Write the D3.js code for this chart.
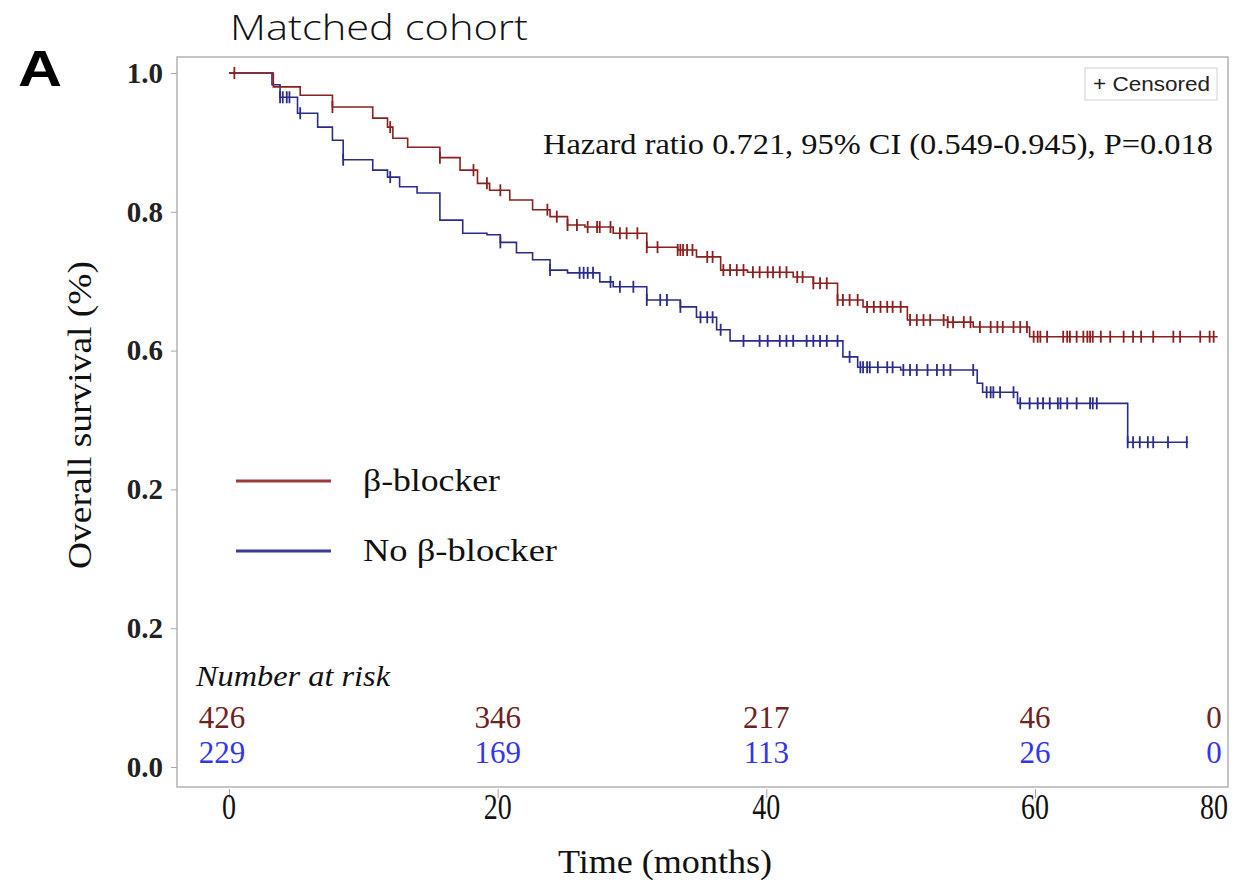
<!DOCTYPE html>
<html>
<head>
<meta charset="utf-8">
<script src="https://cdn.jsdelivr.net/npm/d3@7"></script>
<style>
  html, body { margin: 0; padding: 0; background: #fff; }
  svg { display: block; }
</style>
</head>
<body>
<svg id="chart" width="1242" height="890"></svg>
<script>
// Kaplan–Meier step points: [months, survival]
const betaBlockerCurve = [
  [0, 1.0], [3.3, 0.980], [5.3, 0.968], [7.7, 0.951], [10.7, 0.935], [11.8, 0.922],
  [12.2, 0.906], [13.3, 0.893], [15.7, 0.878], [17.2, 0.860], [18.5, 0.841],
  [19.4, 0.831], [20.9, 0.817], [22.6, 0.803], [23.9, 0.793], [25.2, 0.781],
  [26.5, 0.778], [28.6, 0.769], [31.1, 0.749], [33.4, 0.745], [34.8, 0.735],
  [36.6, 0.716], [38.6, 0.713], [42.0, 0.706], [43.5, 0.697], [45.3, 0.673],
  [47.2, 0.663], [50.5, 0.644], [53.5, 0.641], [55.4, 0.634], [59.6, 0.620]
];
const betaBlockerEnd = 73.6;

const noBetaBlockerCurve = [
  [0, 1.0], [3.2, 0.983], [3.8, 0.965], [5.1, 0.942], [6.6, 0.922], [7.7, 0.903],
  [8.5, 0.875], [10.7, 0.860], [11.8, 0.850], [12.7, 0.836], [14.0, 0.827],
  [15.7, 0.788], [17.4, 0.769], [19.2, 0.767], [20.2, 0.756], [21.4, 0.741],
  [22.6, 0.731], [23.9, 0.716], [25.2, 0.712], [27.6, 0.699], [28.6, 0.692],
  [31.1, 0.673], [33.6, 0.663], [34.8, 0.648], [36.3, 0.630], [37.3, 0.614],
  [45.7, 0.591], [46.8, 0.576], [50.0, 0.572], [55.7, 0.553], [56.1, 0.540],
  [58.7, 0.524], [66.9, 0.468]
];
const noBetaBlockerEnd = 71.4;

// Censoring times (months)
const betaBlockerCensored = [
  0.4, 7.7, 12.0, 15.7, 18.2, 19.2, 20.2, 23.7, 24.4, 25.2, 25.9, 26.7, 27.4, 27.6,
  28.4, 29.1, 29.6, 30.4, 31.1, 31.9, 33.4, 33.6, 33.8, 34.1, 34.5, 35.6, 36.0, 36.8,
  37.3, 37.8, 38.3, 39.0, 39.5, 40.1, 40.5, 41.0, 41.5, 42.3, 42.7, 43.5, 44.0, 44.5,
  45.3, 45.7, 46.2, 46.8, 47.5, 48.0, 48.5, 49.0, 49.4, 50.0, 50.7, 51.2, 51.7, 52.2,
  53.2, 53.5, 53.9, 54.7, 55.2, 55.9, 56.7, 57.2, 57.6, 58.4, 58.9, 59.4, 59.9, 60.2,
  60.4, 60.9, 62.1, 62.4, 62.6, 63.1, 63.6, 63.9, 64.1, 64.3, 64.9, 65.6, 66.6, 67.3,
  67.9, 68.8, 70.3, 70.8, 72.3, 73.0, 73.3
];
const noBetaBlockerCensored = [
  3.8, 4.0, 4.3, 4.5, 5.3, 8.5, 12.0, 20.2, 23.9, 26.1, 26.4, 26.7, 27.1, 28.4, 29.1,
  30.1, 31.1, 32.1, 32.6, 33.6, 35.1, 35.6, 36.0, 36.6, 38.3, 39.5, 40.1, 41.0, 41.5,
  42.0, 43.0, 43.5, 44.0, 44.5, 45.3, 46.2, 47.0, 47.2, 47.5, 47.7, 48.3, 49.0, 49.4,
  50.2, 50.7, 51.2, 52.0, 52.7, 53.2, 53.7, 55.4, 56.4, 56.7, 56.9, 57.4, 58.4, 58.9,
  59.6, 60.2, 60.6, 61.1, 61.7, 61.9, 62.4, 63.1, 64.1, 64.3, 64.6, 66.9, 67.3, 67.8,
  68.4, 68.8, 69.9, 71.3
];

// Axis ticks and labels as printed
const yTickValues = [0, 0.2, 0.4, 0.6, 0.8, 1.0];
const yTickLabels = ["0.0", "0.2", "0.2", "0.6", "0.8", "1.0"];
const xTickValues = [0, 20, 40, 60, 80];
const xTickLabels = ["0", "20", "40", "60", "80"];

// Number at risk table
const atRiskTimes = [0, 20, 40, 60, 80];
const atRiskBeta = [426, 346, 217, 46, 0];
const atRiskNoBeta = [229, 169, 113, 26, 0];

const seriesNames = ["β-blocker", "No β-blocker"];
const hazardText = "Hazard ratio 0.721, 95% CI (0.549-0.945), P=0.018";

// ---- layout ----
const frame = { left: 177, top: 57, right: 1228, bottom: 787 };
const svg = d3.select("#chart");
const serif = "'Liberation Serif', 'Times New Roman', serif";
const sans = "'Liberation Sans', Arial, sans-serif";

const x = d3.scaleLinear().domain([0, 60]).range([229, 1035]);
const xRightLabel = frame.right - 14; // last column sits at the frame edge
const xCol = t => (x(t) > frame.right ? xRightLabel : x(t));
const y = d3.scaleLinear().domain([0, 1]).range([767, 73]);

const colors = {
  red: "#8a1f1f", blue: "#2b2b8c",
  legendRed: "#9c3b3b", legendBlue: "#3b3b98",
  riskRed: "#6e2222", riskBlue: "#3535ee"
};

// Helper: text with a fixed rendered width
function fitText(sel, width) {
  return sel.attr("textLength", width).attr("lengthAdjust", "spacingAndGlyphs");
}

// Frame
svg.append("rect")
  .attr("x", frame.left).attr("y", frame.top)
  .attr("width", frame.right - frame.left).attr("height", frame.bottom - frame.top)
  .attr("fill", "none").attr("stroke", "#b3b3b3").attr("stroke-width", 1.5);

// Y axis
const yAxis = svg.append("g")
  .attr("transform", `translate(${frame.left},0)`)
  .call(d3.axisLeft(y).tickValues(yTickValues).tickSize(6).tickPadding(8)
    .tickFormat((d, i) => yTickLabels[i]));
yAxis.select(".domain").remove();
yAxis.selectAll(".tick line").attr("stroke", "#a8a8a8");
yAxis.selectAll(".tick text")
  .attr("font-family", serif).attr("font-weight", "bold")
  .attr("font-size", 29).attr("fill", "#222");

// X axis
const xAxis = svg.append("g")
  .attr("transform", `translate(0,${frame.bottom})`)
  .call(d3.axisBottom(x).tickValues(xTickValues.filter(t => x(t) <= frame.right))
    .tickSize(9).tickFormat(""));
xAxis.select(".domain").remove();
xAxis.selectAll(".tick line").attr("stroke", "#a8a8a8").attr("transform", "translate(0,2)");

svg.append("g").selectAll("text")
  .data(xTickValues)
  .join("text")
  .attr("x", d => xCol(d))
  .attr("y", 819)
  .attr("text-anchor", "middle")
  .attr("font-family", serif).attr("font-size", 36).attr("fill", "#111")
  .each(function (d, i) {
    const s = d3.select(this).text(xTickLabels[i]);
    fitText(s, xTickLabels[i].length * 14);
  });

// Axis titles
fitText(svg.append("text")
  .attr("transform", "translate(91,415) rotate(-90)")
  .attr("text-anchor", "middle")
  .attr("font-family", serif).attr("font-size", 33).attr("fill", "#111")
  .text("Overall survival (%)"), 308);
fitText(svg.append("text")
  .attr("x", 665).attr("y", 873)
  .attr("text-anchor", "middle")
  .attr("font-family", serif).attr("font-size", 33).attr("fill", "#111")
  .text("Time (months)"), 214);

// Panel letter and title
fitText(svg.append("text")
  .attr("x", 18).attr("y", 86)
  .attr("font-family", sans)
  .attr("font-weight", "bold").attr("font-size", 50).attr("fill", "#000")
  .text("A"), 44);
fitText(svg.append("text")
  .attr("x", 230).attr("y", 40)
  .attr("font-family", "'Open Sans', sans-serif")
  .attr("font-weight", 300).attr("font-size", 35).attr("fill", "#111")
  .text("Matched cohort"), 298);

// Survival curves
const line = d3.line().x(d => x(d[0])).y(d => y(d[1])).curve(d3.curveStepAfter);
const withEnd = (pts, end) => pts.concat([[end, pts[pts.length - 1][1]]]);
const survAt = (pts, t) => {
  const i = d3.bisector(d => d[0]).right(pts, t) - 1;
  return pts[Math.max(0, i)][1];
};

const series = [
  { pts: betaBlockerCurve, end: betaBlockerEnd, cens: betaBlockerCensored, color: colors.red },
  { pts: noBetaBlockerCurve, end: noBetaBlockerEnd, cens: noBetaBlockerCensored, color: colors.blue }
];

series.slice().reverse().forEach(s => {
  svg.append("path")
    .attr("d", line(withEnd(s.pts, s.end)))
    .attr("fill", "none").attr("stroke", s.color).attr("stroke-width", 1.6);
  svg.append("g").selectAll("line")
    .data(s.cens)
    .join("line")
    .attr("x1", t => x(t)).attr("x2", t => x(t))
    .attr("y1", t => y(survAt(s.pts, t)) - 6)
    .attr("y2", t => y(survAt(s.pts, t)) + 6)
    .attr("stroke", s.color).attr("stroke-width", 1.8);
});

// Legend
const legend = [
  { name: seriesNames[0], color: colors.legendRed, y: 481, w: 137 },
  { name: seriesNames[1], color: colors.legendBlue, y: 551, w: 194 }
];
legend.forEach(l => {
  svg.append("line")
    .attr("x1", 236).attr("x2", 331).attr("y1", l.y).attr("y2", l.y)
    .attr("stroke", l.color).attr("stroke-width", 3);
  fitText(svg.append("text")
    .attr("x", 363).attr("y", l.y + 10)
    .attr("font-family", serif).attr("font-size", 32).attr("fill", "#111")
    .text(l.name), l.w);
});

// Hazard ratio annotation
fitText(svg.append("text")
  .attr("x", 543).attr("y", 154)
  .attr("font-family", serif).attr("font-size", 29).attr("fill", "#111")
  .text(hazardText), 670);

// Censored key
svg.append("rect")
  .attr("x", 1085).attr("y", 68).attr("width", 132).attr("height", 32)
  .attr("fill", "#fff").attr("stroke", "#d0d0d0").attr("stroke-width", 1);
fitText(svg.append("text")
  .attr("x", 1093).attr("y", 91)
  .attr("font-family", sans)
  .attr("font-size", 20).attr("fill", "#222")
  .text("+ Censored"), 117);

// Number at risk
fitText(svg.append("text")
  .attr("x", 196).attr("y", 686)
  .attr("font-family", serif).attr("font-style", "italic")
  .attr("font-size", 29).attr("fill", "#111")
  .text("Number at risk"), 194);

[[atRiskBeta, colors.riskRed, 728], [atRiskNoBeta, colors.riskBlue, 763]].forEach(([vals, col, yy]) => {
  svg.append("g").selectAll("text")
    .data(vals)
    .join("text")
    .attr("x", (d, i) => xCol(atRiskTimes[i]) - (i === 0 ? 7 : 0))
    .attr("y", yy)
    .attr("text-anchor", "middle")
    .attr("font-family", serif).attr("font-size", 31).attr("fill", col)
    .text(d => d);
});
</script>
</body>
</html>
